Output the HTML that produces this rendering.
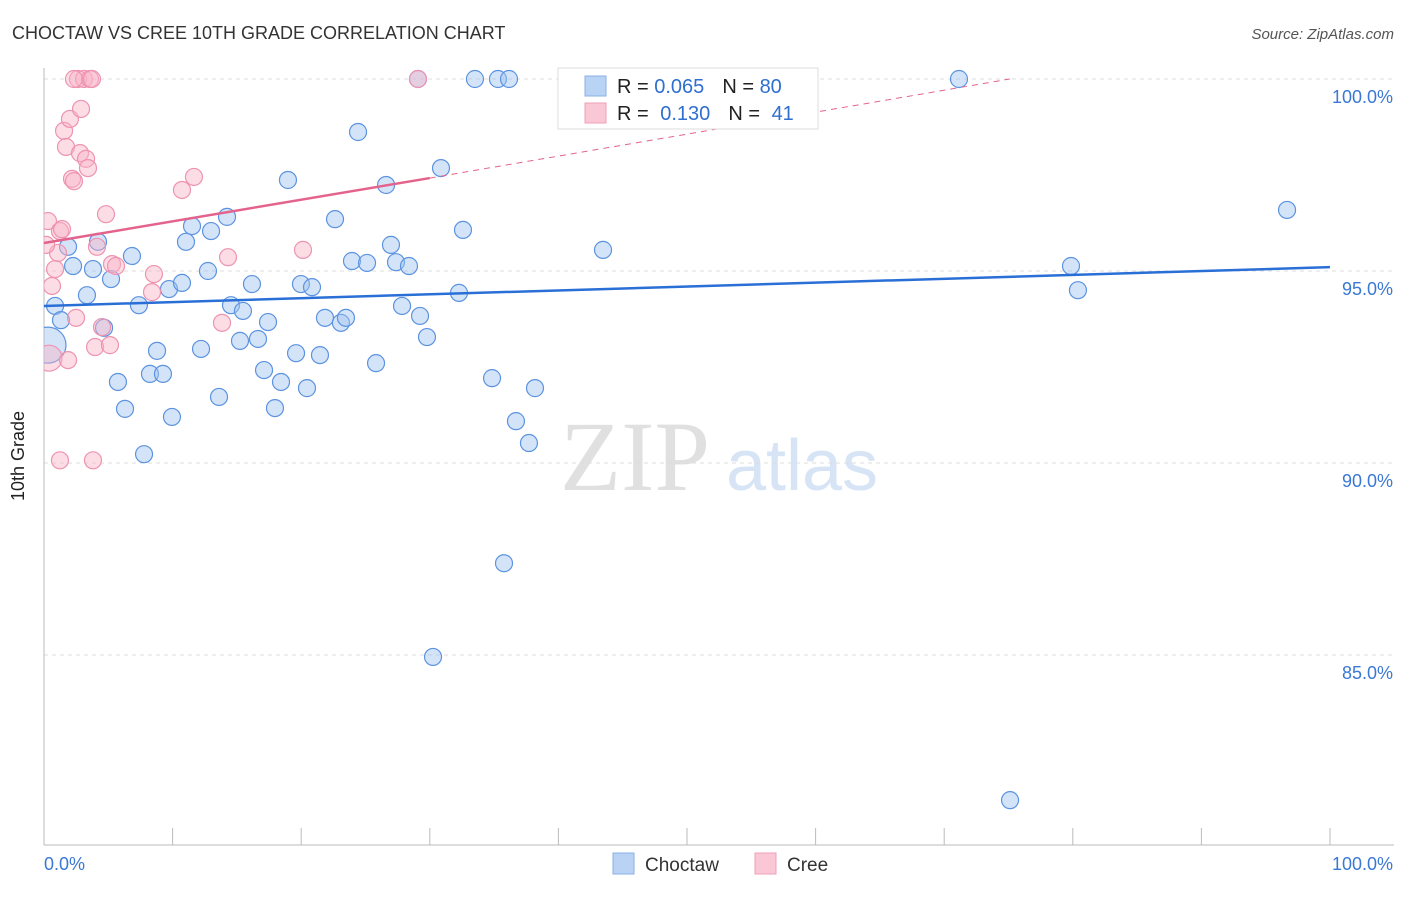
<!DOCTYPE html>
<html><head><meta charset="utf-8">
<style>
body{margin:0;background:#fff;font-family:"Liberation Sans",sans-serif;}
</style></head>
<body>
<svg id="chart" width="1406" height="892" xmlns="http://www.w3.org/2000/svg" font-family="Liberation Sans, sans-serif">
<defs><clipPath id="plotclip"><rect x="44" y="40" width="1362" height="805"/></clipPath></defs>
<text x="12" y="39" font-size="18" fill="#333">CHOCTAW VS CREE 10TH GRADE CORRELATION CHART</text>
<text x="1394" y="39" font-size="15" fill="#555" text-anchor="end" font-style="italic">Source: ZipAtlas.com</text>
<text x="24" y="456" font-size="18" fill="#222" text-anchor="middle" transform="rotate(-90 24 456)">10th Grade</text>
<g>
<text x="635" y="490" font-size="100" fill="#e0e0e0" text-anchor="middle" style="font-family:'Liberation Serif',serif">ZIP</text>
<text x="802" y="490" font-size="72" fill="#d6e4f5" text-anchor="middle">atlas</text>
</g>
<g id="grid"></g>
<g id="axes"></g>
<g id="points" clip-path="url(#plotclip)"></g>
<g id="lines"></g>
<g>
<rect x="558" y="68" width="260" height="61" fill="#fff" stroke="#ddd"/>
<rect x="585" y="76" width="21" height="20" fill="#b9d3f4" stroke="#8ab2e8"/>
<rect x="585" y="103" width="21" height="20" fill="#f9c7d6" stroke="#f0a0b8"/>
<text x="617" y="93" font-size="20" fill="#222">R = <tspan fill="#2f6fd0">0.065</tspan><tspan dx="18">N = </tspan><tspan fill="#2f6fd0">80</tspan></text>
<text x="617" y="120" font-size="20" fill="#222">R = <tspan dx="6" fill="#2f6fd0">0.130</tspan><tspan dx="18">N = </tspan><tspan dx="6" fill="#2f6fd0">41</tspan></text>
</g>
<g>
<rect x="613" y="853" width="21" height="21" fill="#b9d3f4" stroke="#8ab2e8"/>
<text x="645" y="871" font-size="19" fill="#333">Choctaw</text>
<rect x="755" y="853" width="21" height="21" fill="#f9c7d6" stroke="#f0a0b8"/>
<text x="787" y="871" font-size="19" fill="#333">Cree</text>
</g>
</svg>
<script>
const yTicks=[100,95,90,85];
const yTickLabels=["100.0%","95.0%","90.0%","85.0%"];
const blueX=[0.86,1.32,2.26,3.34,3.81,4.2,1.87,4.67,5.21,5.75,6.3,6.84,7.38,7.78,8.24,8.79,9.25,9.72,9.95,10.73,11.04,11.51,12.21,12.75,12.99,13.61,14.23,14.54,15.24,15.47,16.17,16.64,17.11,17.42,17.96,18.43,18.97,19.6,19.98,20.45,20.84,21.46,21.85,22.63,23.09,23.48,23.95,24.42,25.12,25.82,26.6,26.98,27.37,27.84,28.38,29.24,29.78,30.25,30.87,32.27,32.58,33.51,34.84,35.3,35.77,36.16,36.7,37.71,38.18,43.47,45.57,71.15,75.12,79.86,80.4,96.66,0.31,29.08];
const blueY=[94.09,93.72,95.13,94.37,95.05,95.76,95.63,93.52,94.79,92.11,91.41,95.39,94.11,90.23,92.32,92.92,92.32,94.53,91.2,94.69,95.76,96.17,92.97,95.0,96.04,91.72,96.41,94.11,93.18,93.96,94.66,93.23,92.42,93.67,91.43,92.11,97.37,92.86,94.66,91.95,94.58,92.81,93.78,96.35,93.65,93.78,95.26,98.62,95.21,92.6,97.24,95.68,95.23,94.09,95.13,93.83,93.28,84.95,97.68,94.43,96.07,100,92.21,100,87.39,100,91.09,90.52,91.95,95.55,100,100,81.22,95.13,94.5,96.59,93.07,100];
const pinkX=[0.39,0.31,0.62,0.86,1.09,1.24,1.4,1.56,1.71,1.87,2.02,2.18,2.33,2.49,2.64,2.8,2.88,3.11,3.27,3.42,3.58,3.73,3.81,1.24,3.97,4.12,4.51,4.82,5.13,5.29,5.6,8.4,8.55,10.73,11.66,13.84,14.31,20.14,29.08,2.33,0.16];
const pinkY=[92.73,96.3,94.61,95.05,95.47,96.04,96.09,98.65,98.23,92.68,98.96,97.4,97.34,93.78,100,98.07,99.22,100,97.92,97.68,100,100,90.07,90.07,93.02,95.63,93.54,96.48,93.07,95.18,95.13,94.45,94.92,97.11,97.45,93.65,95.36,95.55,100,100,95.68];
const blueLine=[94.09,95.1];
const pinkLine=[95.73,97.42,100];
const X=v=>44+v*12.86, Y=v=>79+(100-v)*38.4;
const NS="http://www.w3.org/2000/svg";
function mk(tag,attrs,parent){const e=document.createElementNS(NS,tag);for(const k in attrs)e.setAttribute(k,attrs[k]);document.getElementById(parent).appendChild(e);return e;}
yTicks.forEach((t,i)=>{
 const g=mk('line',{x1:44,x2:1394,y1:Y(t),y2:Y(t),stroke:'#ddd','stroke-dasharray':'4,4'},'grid');
 
 
 const l=mk('text',{x:1393,y:Y(t)+24,'font-size':18,fill:'#3a78d4','text-anchor':'end'},'grid');
 l.textContent=yTickLabels[i];
 
 
});
const ax=mk('line',{x1:44,x2:44,y1:68,y2:845,stroke:'#bbb'},'axes');


const bx=mk('line',{x1:44,x2:1394,y1:845,y2:845,stroke:'#bbb'},'axes');


for(let i=0;i<=10;i++){const t=mk('line',{x1:X(i*10),x2:X(i*10),y1:828,y2:845,stroke:'#bbb'},'axes');
 
 }
const xl0=mk('text',{x:44,y:870,'font-size':18,fill:'#3a78d4'},'axes');xl0.textContent='0.0%';


const xl1=mk('text',{x:1393,y:870,'font-size':18,fill:'#3a78d4','text-anchor':'end'},'axes');xl1.textContent='100.0%';


blueX.forEach((x,i)=>{const c=mk('circle',{cx:X(x),cy:Y(blueY[i]),r:i==76?18:8.5,fill:'rgba(160,196,240,0.45)',stroke:'#5c93e0','stroke-width':1.2},'points');
 
 });
pinkX.forEach((x,i)=>{const c=mk('circle',{cx:X(x),cy:Y(pinkY[i]),r:i==0?13:8.5,fill:'rgba(248,180,200,0.45)',stroke:'#ee93b0','stroke-width':1.2},'points');
 
 });
const bl=mk('line',{x1:X(0),y1:Y(blueLine[0]),x2:X(100),y2:Y(blueLine[1]),stroke:'#2a6fd6','stroke-width':2.5},'lines');


const pl=mk('line',{x1:X(0),y1:Y(pinkLine[0]),x2:X(30),y2:Y(pinkLine[1]),stroke:'#e4638c','stroke-width':2.5},'lines');


const pd=mk('line',{x1:X(30),y1:Y(pinkLine[1]),x2:X(75.1),y2:Y(pinkLine[2]),stroke:'#e4638c','stroke-width':1,'stroke-dasharray':'6,5'},'lines');


</script>
</body></html>
